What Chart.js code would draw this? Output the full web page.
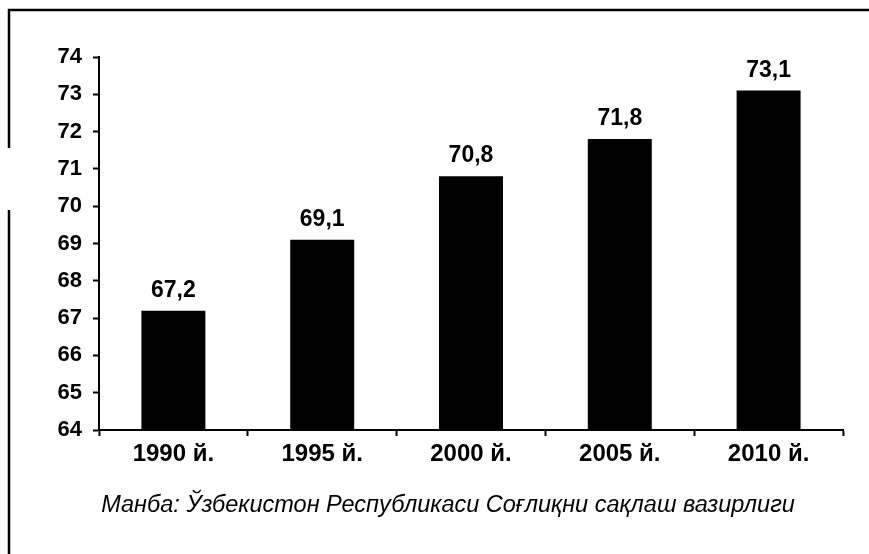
<!DOCTYPE html>
<html>
<head>
<meta charset="utf-8">
<script src="https://cdn.jsdelivr.net/npm/chart.js@4/dist/chart.umd.min.js"></script>
<style>
  html, body { margin: 0; padding: 0; background: #fff; }
  #wrap { width: 869px; height: 554px; }
</style>
</head>
<body>
<div id="wrap"><canvas id="myChart" width="869" height="554"></canvas></div>
<script>
var years = ['1990 й.', '1995 й.', '2000 й.', '2005 й.', '2010 й.'];
var lifeExp = [67.2, 69.1, 70.8, 71.8, 73.1];
var yTicks = [64, 65, 66, 67, 68, 69, 70, 71, 72, 73, 74];
var sourceNote = 'Манба: Ўзбекистон Республикаси Соғлиқни сақлаш вазирлиги';

var FONT = "'Liberation Sans Narrow', 'Liberation Sans', Arial, sans-serif";
Chart.defaults.font.family = FONT;
Chart.defaults.color = '#000';

// value labels above bars, frame and source line
var decorations = {
    id: 'decorations',
    afterDatasetsDraw: function (chart) {
        var ctx = chart.ctx;
        var meta = chart.getDatasetMeta(0);
        ctx.save();
        ctx.fillStyle = '#000';
        ctx.font = 'bold 23px ' + FONT;
        ctx.textAlign = 'center';
        ctx.textBaseline = 'alphabetic';
        meta.data.forEach(function (bar, i) {
            ctx.fillText(String(lifeExp[i]).replace('.', ','), bar.x, bar.y - 14);
        });
        ctx.restore();
    },
    afterDraw: function (chart) {
        var ctx = chart.ctx;
        ctx.save();
        ctx.strokeStyle = '#000';
        ctx.lineWidth = 2.5;
        ctx.beginPath();
        ctx.moveTo(869, 10);
        ctx.lineTo(9, 10);
        ctx.lineTo(9, 148);
        ctx.moveTo(9, 210);
        ctx.lineTo(9, 554);
        ctx.stroke();

        ctx.fillStyle = '#000';
        ctx.font = 'italic 23.5px ' + "'Liberation Sans', Arial, sans-serif";
        ctx.textAlign = 'center';
        ctx.textBaseline = 'middle';
        ctx.fillText(sourceNote, 448, 505);
        ctx.restore();
    }
};

var ctx = document.getElementById('myChart');
var myChart = new Chart(ctx, {
    type: 'bar',
    data: {
        labels: years,
        datasets: [{
            data: lifeExp,
            backgroundColor: '#000',
            borderWidth: 0,
            barPercentage: 0.43,
            categoryPercentage: 1
        }]
    },
    plugins: [decorations],
    options: {
        responsive: false,
        animation: false,
        layout: { padding: { left: 0, right: 26, top: 57, bottom: 0 } },
        plugins: {
            legend: { display: false },
            tooltip: { enabled: false }
        },
        scales: {
            x: {
                afterFit: function (scale) { scale.height = 124; },
                grid: {
                    offset: true,
                    drawOnChartArea: false,
                    tickLength: 6,
                    tickWidth: 2,
                    tickColor: '#000'
                },
                border: { color: '#000', width: 2 },
                ticks: {
                    padding: 4,
                    maxRotation: 0,
                    font: { size: 24, weight: 'bold' }
                }
            },
            y: {
                min: 64,
                max: 74,
                afterFit: function (scale) { scale.width = 99; },
                afterBuildTicks: function (scale) {
                    scale.ticks = yTicks.map(function (v) { return { value: v }; });
                },
                grid: {
                    drawOnChartArea: false,
                    tickLength: 6,
                    tickWidth: 2,
                    tickColor: '#000'
                },
                border: { color: '#000', width: 2 },
                ticks: {
                    padding: 11,
                    font: { size: 22, weight: 'bold' }
                }
            }
        }
    }
});
</script>
</body>
</html>
